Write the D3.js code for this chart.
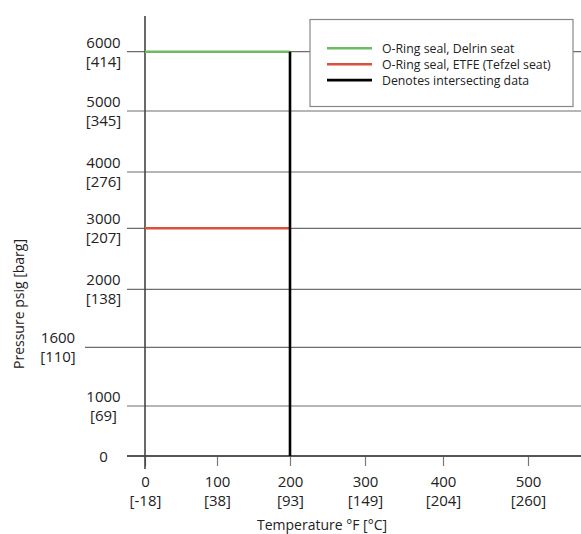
<!DOCTYPE html>
<html><head><meta charset="utf-8">
<script src="https://cdn.jsdelivr.net/npm/d3@7"></script>
<style>
body{margin:0;background:#fff;}
text{font-family:"Open Sans",sans-serif;fill:#222;}
</style></head>
<body><svg id="c" width="581" height="534"></svg>
<script>
// Data
const xTicksF = [0, 100, 200, 300, 400, 500];
const xTicksC = ["[-18]", "[38]", "[93]", "[149]", "[204]", "[260]"];
const yTicksPsig = [0, 1000, 1600, 2000, 3000, 4000, 5000, 6000];
const yTicksBarg = ["", "[69]", "[110]", "[138]", "[207]", "[276]", "[345]", "[414]"];
const delrinTemp = [0, 200];
const delrinPressure = [6000, 6000];
const etfeTemp = [0, 200];
const etfePressure = [3000, 3000];
const intersectTemp = [200, 200];
const intersectPressure = [0, 6000];
const seriesNames = ["O-Ring seal, Delrin seat", "O-Ring seal, ETFE (Tefzel seat)", "Denotes intersecting data"];
const seriesColors = ["#6cbd5f", "#d9513d", "#000000"];

const svg = d3.select("#c");
// chart uses non-uniform spacing: piecewise scales
const x = d3.scaleLinear().domain(xTicksF).range([145, 217, 290, 365, 443, 528]);
const y = d3.scaleLinear().domain(yTicksPsig).range([456, 406, 347.3, 289.3, 228.3, 172, 111, 51.7]);

// gridlines
svg.append("g").selectAll("line").data(yTicksPsig.filter(d => d > 0)).join("line")
  .attr("x1", d => d === 1600 ? 85 : 127).attr("x2", 581)
  .attr("y1", d => y(d)).attr("y2", d => y(d))
  .attr("stroke", "#6e6e6e").attr("stroke-width", 1.2);

// x axis
const xAxis = d3.axisBottom(x).tickValues(xTicksF).tickSize(10).tickFormat("");
const gx = svg.append("g").attr("transform", `translate(0,${y(0)})`).call(xAxis);
gx.select(".domain").remove();
gx.selectAll(".tick line").attr("stroke", "#777").attr("stroke-width", 1.2);
svg.append("line").attr("x1", 127).attr("x2", 581).attr("y1", y(0)).attr("y2", y(0))
  .attr("stroke", "#555").attr("stroke-width", 2);
gx.selectAll(".tick").each(function(d, i){
  const t = d3.select(this);
  t.append("text").attr("y", 30.5).attr("text-anchor", "middle").attr("font-size", 15).attr("fill","#222").text(d);
  t.append("text").attr("y", 49.5).attr("text-anchor", "middle").attr("font-size", 15).attr("fill","#222").text(xTicksC[i]);
});

// y axis line
svg.append("line").attr("x1", x(0)).attr("x2", x(0)).attr("y1", 16).attr("y2", 469)
  .attr("stroke", "#444").attr("stroke-width", 1.6);

// y tick labels
const gy = svg.append("g");
yTicksPsig.forEach((d, i) => {
  const cx = d === 1600 ? 58 : 103.5;
  if (d === 0) {
    gy.append("text").attr("x", cx).attr("y", y(d) + 6).attr("text-anchor", "middle").attr("font-size", 15).text(d);
  } else {
    gy.append("text").attr("x", cx).attr("y", y(d) - 4).attr("text-anchor", "middle").attr("font-size", 15).text(d);
    gy.append("text").attr("x", cx).attr("y", y(d) + 15).attr("text-anchor", "middle").attr("font-size", 15).text(yTicksBarg[i]);
  }
});

// series lines
const line = d3.line().x(d => x(d[0])).y(d => y(d[1]));
const series = [
  d3.zip(delrinTemp, delrinPressure),
  d3.zip(etfeTemp, etfePressure),
  d3.zip(intersectTemp, intersectPressure)
];
svg.append("g").selectAll("path").data(series).join("path")
  .attr("d", line).attr("fill", "none")
  .attr("stroke", (d, i) => seriesColors[i])
  .attr("stroke-width", 2.6);

// axis titles
svg.append("text").attr("x", 322).attr("y", 530).attr("text-anchor", "middle").attr("font-size", 14)
  .text("Temperature °F [°C]");
svg.append("text").attr("transform", "translate(24,304) rotate(-90)").attr("text-anchor", "middle").attr("font-size", 14)
  .text("Pressure psig [barg]");

// legend
const lg = svg.append("g");
lg.append("rect").attr("x", 310).attr("y", 19.5).attr("width", 263).attr("height", 87)
  .attr("fill", "#fff").attr("stroke", "#888").attr("stroke-width", 1.2);
seriesNames.forEach((n, i) => {
  const yy = 48.3 + i * 15.9;
  lg.append("line").attr("x1", 327).attr("x2", 372).attr("y1", yy).attr("y2", yy)
    .attr("stroke", seriesColors[i]).attr("stroke-width", 2.6);
  lg.append("text").attr("x", 382).attr("y", yy + 4.5).attr("font-size", 12.3).text(n);
});
</script>
</body></html>
